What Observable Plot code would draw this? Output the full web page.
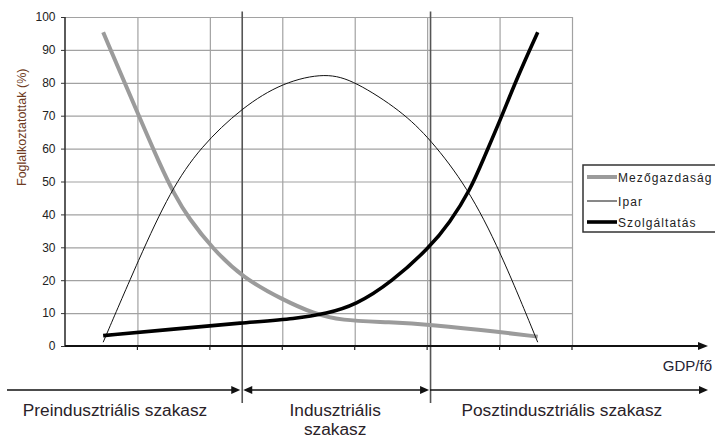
<!DOCTYPE html>
<html>
<head>
<meta charset="utf-8">
<script src="https://cdn.jsdelivr.net/npm/d3@7"></script>
<script src="https://cdn.jsdelivr.net/npm/@observablehq/plot@0.6"></script>
<style>
  html, body { margin: 0; padding: 0; background: #fff; }
  #chart { width: 715px; height: 437px; overflow: hidden; }
</style>
</head>
<body>
<div id="chart"></div>
<script>
// ---- data ----
const gdpMezo = [0.52, 1.02, 1.3, 1.5, 1.7, 2.03, 2.44, 3.0, 3.43, 3.79, 4.49, 5.04, 6.0, 6.52];
const mezo    = [95.5, 69.7, 55.5, 46.3, 39, 29.8, 21, 14.2, 10, 7.9, 7.4, 6.6, 4.4, 3.0];

const gdpIpar = [0.52, 1.02, 1.45, 1.86, 2.44, 3.0, 3.6, 4.0, 4.63, 5.04, 5.55, 6.0, 6.52];
const ipar    = [1.3, 27, 47.4, 60.6, 72.7, 80.3, 83.3, 80.6, 71.7, 63, 48.4, 29.2, 1.3];

const gdpSzolg = [0.52, 1.5, 2.44, 3.2, 3.6, 4.0, 4.5, 5.04, 5.3, 5.59, 5.78, 6.0, 6.24, 6.52];
const szolg    = [3.3, 5.3, 7.2, 8.5, 10, 12.5, 19.5, 30.4, 37.5, 47.6, 57.5, 68.7, 81.9, 95.5];

const seriesNames = ["Mezőgazdaság", "Ipar", "Szolgáltatás"];
const yTicks = [0, 10, 20, 30, 40, 50, 60, 70, 80, 90, 100];
const xGrid = [1, 2, 3, 4, 5, 6, 7];
const stageBounds = [2.44, 5.04];
const stageLabels = [["Preindusztriális szakasz"], ["Indusztriális", "szakasz"], ["Posztindusztriális szakasz"]];
const stageLabelX = [0.69, 3.73, 6.86];
const yTitle = "Foglalkoztatottak (%)";
const xTitle = "GDP/fő";

const styles = {
  "Mezőgazdaság": {stroke: "#9b9b9b", strokeWidth: 4},
  "Ipar": {stroke: "#111", strokeWidth: 1},
  "Szolgáltatás": {stroke: "#000", strokeWidth: 3.6}
};

const rows = [];
[[gdpMezo, mezo], [gdpIpar, ipar], [gdpSzolg, szolg]].forEach(([xs, vals], i) => {
  vals.forEach((v, j) => rows.push({series: seriesNames[i], x: xs[j], y: v}));
});

const FONT = "'Liberation Sans', Arial, Helvetica, sans-serif";

const plot = Plot.plot({
  width: 715,
  height: 437,
  marginLeft: 65,
  marginRight: 143,
  marginTop: 17,
  marginBottom: 91,
  style: {fontFamily: FONT, fontSize: "12px", color: "#222", background: "#fff", overflow: "visible"},
  x: {domain: [0, 7], axis: null},
  y: {domain: [0, 100], axis: null},
  marks: [
    Plot.ruleY(yTicks, {stroke: "#a2a2a2", strokeWidth: 1.2}),
    Plot.ruleX(xGrid, {y1: 0, y2: 100, stroke: "#a2a2a2", strokeWidth: 1.2}),
    Plot.ruleX(stageBounds, {y1: -17.3, y2: 101.7, stroke: "#555", strokeWidth: 1.6}),
    Plot.axisY({ticks: yTicks, tickSize: 4, tickPadding: 6, label: null, fontSize: 12, fill: "#222", stroke: "#333"}),
    Plot.text([yTitle], {frameAnchor: "left", rotate: -90, dx: -44, dy: 4, fontSize: 12.5, fill: "#6e3a22"}),
    ...seriesNames.map(name => Plot.line(rows.filter(d => d.series === name), {
      x: "x", y: "y", curve: "basis",
      stroke: styles[name].stroke, strokeWidth: styles[name].strokeWidth,
      strokeLinecap: "butt", strokeLinejoin: "round"
    }))
  ]
});

document.getElementById("chart").appendChild(plot);

// ---- annotation layer, positioned through the plot's own scales ----
const sx = plot.scale("x"), sy = plot.scale("y");
const X = v => sx.apply(v), Y = v => sy.apply(v);
const svg = d3.select(plot);
const g = svg.append("g").attr("text-anchor", "start");

const x0 = X(0), y0 = Y(0), y100 = Y(100);
// y axis line
g.append("line").attr("x1", x0).attr("x2", x0).attr("y1", y100).attr("y2", y0)
  .attr("stroke", "#333").attr("stroke-width", 1.6);
// x axis line with arrow
const axisEnd = 708;
g.append("line").attr("x1", x0).attr("x2", axisEnd - 8).attr("y1", y0).attr("y2", y0)
  .attr("stroke", "#111").attr("stroke-width", 2);
g.append("path").attr("d", `M${axisEnd},${y0} L${axisEnd - 10},${y0 - 4} L${axisEnd - 10},${y0 + 4} Z`).attr("fill", "#111");
// x ticks
xGrid.forEach(v => {
  g.append("line").attr("x1", X(v)).attr("x2", X(v)).attr("y1", y0).attr("y2", y0 + 4)
    .attr("stroke", "#222").attr("stroke-width", 1.2);
});
// x title
g.append("text").attr("x", 712).attr("y", y0 + 25).attr("text-anchor", "end")
  .attr("font-family", FONT).attr("font-size", 15).attr("fill", "#1f2233").text(xTitle);

// stage arrows
const arrowY = 390;
const b1 = X(stageBounds[0]), b2 = X(stageBounds[1]);
function headRight(x) {
  g.append("path").attr("d", `M${x},${arrowY} L${x - 9},${arrowY - 4} L${x - 9},${arrowY + 4} Z`).attr("fill", "#111");
}
function headLeft(x) {
  g.append("path").attr("d", `M${x},${arrowY} L${x + 9},${arrowY - 4} L${x + 9},${arrowY + 4} Z`).attr("fill", "#111");
}
function seg(a, b) {
  g.append("line").attr("x1", a).attr("x2", b).attr("y1", arrowY).attr("y2", arrowY)
    .attr("stroke", "#111").attr("stroke-width", 1.6);
}
seg(7, b1 - 4); headRight(b1 - 1.5);
seg(b1 + 4, b2 - 4); headLeft(b1 + 1.5); headRight(b2 - 1);
seg(b2, axisEnd - 6); headRight(axisEnd);

// stage labels
stageLabels.forEach((lines, i) => {
  lines.forEach((t, k) => {
    g.append("text").attr("x", X(stageLabelX[i])).attr("y", 416 + k * 19)
      .attr("text-anchor", "middle").attr("font-family", FONT).attr("font-size", 17.3)
      .attr("fill", "#2a2228").text(t);
  });
});

// legend
const lg = g.append("g");
lg.append("rect").attr("x", 583).attr("y", 165).attr("width", 140).attr("height", 67)
  .attr("fill", "#fff").attr("stroke", "#333").attr("stroke-width", 1.5);
const legendY = [177, 201, 222];
seriesNames.forEach((name, i) => {
  lg.append("line").attr("x1", 587).attr("x2", 617).attr("y1", legendY[i]).attr("y2", legendY[i])
    .attr("stroke", styles[name].stroke).attr("stroke-width", styles[name].strokeWidth);
  lg.append("text").attr("x", 618).attr("y", legendY[i] + 4.5).attr("text-anchor", "start")
    .attr("font-family", FONT).attr("font-size", 12).attr("letter-spacing", 1.1)
    .attr("fill", "#222").text(name);
});
</script>
</body>
</html>
